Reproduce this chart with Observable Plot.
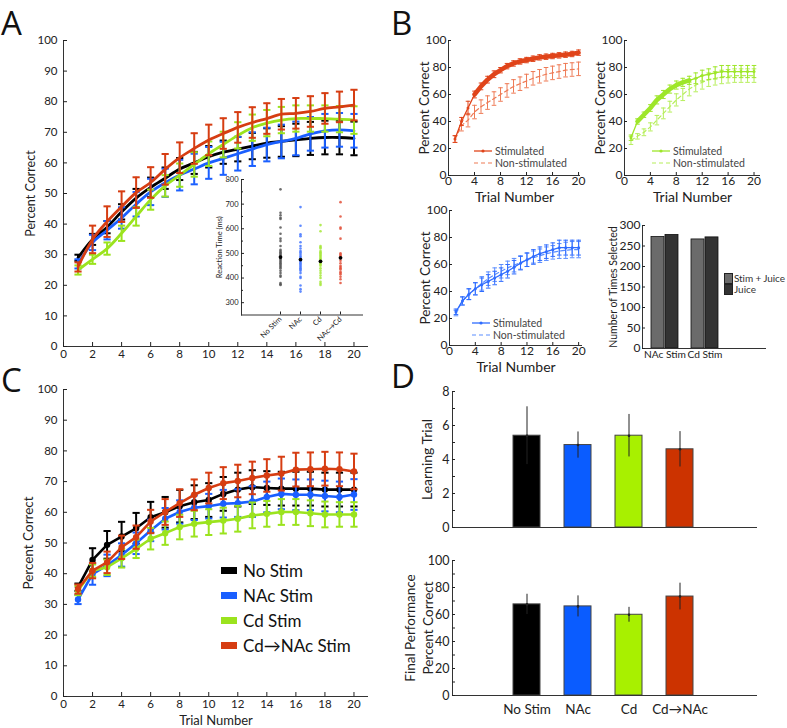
<!DOCTYPE html>
<html><head><meta charset="utf-8">
<script src="https://cdn.jsdelivr.net/npm/d3@7"></script>
<script src="https://cdn.jsdelivr.net/npm/@observablehq/plot@0.6"></script>
<style>
body{margin:0;background:#fff;}
#fig{position:relative;width:787px;height:728px;overflow:hidden;font-family:Lato,"Open Sans",sans-serif;color:#222;}
.letter{position:absolute;font-family:"Open Sans",sans-serif;font-size:33px;line-height:33px;color:#111;}
.lg{position:absolute;white-space:nowrap;display:flex;align-items:center;}
</style></head><body><div id="fig"></div>
<script>
// ---------------- DATA ----------------
const trials = [1,2,3,4,5,6,7,8,9,10,11,12,13,14,15,16,17,18,19,20];
const trialTicks2 = [0,2,4,6,8,10,12,14,16,18,20];
const trialTicks4 = [0,4,8,12,16,20];
const pctTicks10 = [0,10,20,30,40,50,60,70,80,90,100];
const pctTicks20 = [0,20,40,60,80,100];
const seriesNames = ["No Stim","NAc Stim","Cd Stim","Cd\u2192NAc Stim"];
const seriesColors = ["#000000","#1a5fff","#9be31e","#d63d12"];

// Panel A (smoothed curves)
const aNoStim    = [29,35,39,44,48.5,52,55,58,60,62,63.5,64.5,65.5,66.5,67,67.5,68,68.3,68.3,68];
const aNoStimErr = [1,1.8,2,2.5,3,3.2,3.5,3.6,3.6,3.5,3.8,4,4.3,4.8,5,5.3,5.4,5.5,5.5,5.5];
const aNAc       = [27,34,38,42,46.5,50.5,53.5,56,58,60,61.5,63,64.5,66,67,68,69.5,70.5,70.8,70.5];
const aNAcErr    = [1.5,2.5,3,3.5,4,4.3,4.6,5,5,5.2,5.4,5.5,5.5,5.5,5.5,5.5,5.5,5.5,5.5,5.5];
const aCd        = [25,28.5,32,37,42.5,48,52.5,56,59.5,63,66,69,71.5,73,74,74.5,74.5,74.5,74.3,74];
const aCdErr     = [1.5,1.5,2,2.5,3,3.3,3.5,3.8,4,4,4.2,4.3,4.3,4.3,4.3,4.3,4.3,4.3,4.3,4.5];
const aCdNAc     = [26,35,40.8,45.7,50.3,53.6,57.9,61.7,64.7,67.5,69.6,71.6,73.2,74.5,75.9,76.2,76.8,77.8,78.3,78.9];
const aCdNAcErr  = [1.5,4.5,5,5,5,5,5,5,5,5,5,5,5,5,5,5,5,5,5,5];

// Inset: reaction times (ms)
const insetCats = ["No Stim","NAc","Cd","NAc\u2192Cd"];
const insetColors = ["#555555","#4477ff","#a6e83a","#e2503a"];
const rtNoStim = [760,665,655,645,640,605,580,560,550,530,515,510,505,500,495,490,485,480,475,470,465,460,455,450,445,440,430,420,410,405,380,375,372];
const rtNAc    = [688,612,578,570,545,530,520,510,505,498,490,485,480,475,470,465,460,455,450,445,440,435,430,420,405,400,370,355,345];
const rtCd     = [615,590,530,525,520,510,505,500,495,490,485,480,475,470,465,460,455,450,440,430,420,410,400,385,378,372];
const rtNAcCd  = [708,650,605,600,560,500,495,490,485,480,470,460,450,445,440,435,425,420,415,405,395,380];
const rtMeans  = [485,475,468,482];
const rtTicks  = [300,400,500,600,700,800];
const rtMinor  = [350,450,550,650,750];

// Panel B
const bLegend = ["Stimulated","Non-stimulated"];
const b1Stim    = [27,40,50,60,66,71,75,78,81,83,84.5,85.5,86.5,87.5,88,88.5,89,89.5,90,91];
const b1StimErr = [2.5,3,5,2.5,2.5,2.5,2.5,2,2,2,2,2,2,2,2,2,2,2,2,2];
const b1Non     = [27,37,41,47,51,54,57,60,63,66,68,70,72,73.5,75,76,77,78,78.5,79];
const b1NonErr  = [2.5,4,5,5,5,5,5,5,5,5,5,5,5,5,5,5,5,5,5,5];
const b1Dense   = [4,5,6,7,8,9,10,11,12,13,14,15,16,17,18,19,20];
const b2Stim    = [28,40,45,50,56,60,64,67,69,70.5,72,74,75,76,77,77,77,77,77,77];
const b2StimErr = [2,2,2,2.5,3,3,3,3,3,3,4,4,4,4.5,4.5,4.5,4.5,4.5,4.5,4.5];
const b2Non     = [26,29,32,36,41,46,51,56,60,64,67,69,71,72,73,73.5,74,74,74,74];
const b2NonErr  = [3,2,2.5,3,3.5,4,4,4.5,4.5,5,5,5,5,5,5,5,5,5,5,5];
const b2Dense   = [2,3,4,5,6,7,8,9,10];
const b3Stim    = [25,33,38,42,45,47.5,50,52.5,55,58,61,63.5,66,68,69.5,71,72.5,72.5,72.5,72.5];
const b3StimErr = [2,3,4,4.5,5,5,5,5,5,5,5,5,5,5,5,5,5.5,5.5,5.5,5.5];
const b3Non     = [24,33,38,42,46,49.5,52.5,55,57.5,59.5,61.5,63.5,65,66.5,68,69,70,70.5,71,71];
const b3NonErr  = [2,3,4,4.5,5,5,5,5,5,5,5,5,5,5,5,5,5.5,6,6,6];
const b4Cats = ["NAc Stim","Cd Stim"];
const b4Keys = ["Stim + Juice","Juice"];
const b4StimJuice = [272,266];
const b4Juice     = [277,271];
const b4Ticks = [0,50,100,150,200,250,300];

// Panel C
const cNoStim    = [35.6,44.5,49.4,52.1,54.8,58.4,60,62,63.3,64,66,67.4,68.2,67.9,67.7,67.7,67.7,67.4,67.4,67.4];
const cNoStimErr = [1.2,3.8,4.5,4.8,5,5,5,5.3,5.5,5.5,5.5,5.5,5.5,5.5,5.5,5.5,5.5,5.5,5.5,5.5];
const cNAc       = [31.6,39.9,42.7,46.1,49.9,54.1,57.9,60.1,61.5,62,62.8,63,63.5,65,66,65.7,65.7,65.3,65,65.8];
const cNAcErr    = [1.5,3.5,3.5,3.8,3.5,3.5,3.5,3.8,4,4,4.5,4.5,5,5,5,5,5,5,5,5];
const cCd        = [34.5,41,42.1,45,48.1,51.4,53.2,55.2,56.3,56.8,57.3,57.9,59,59.5,60.1,60.1,59.7,59.3,59.3,59.3];
const cCdErr     = [1.5,2,2.5,3,3,3.5,3.8,4,4.2,4.2,4.2,4.2,4.2,4.2,4.2,4.2,4.2,4.2,4,4];
const cCdNAc     = [35,41,43.7,48.6,51.9,57,60.1,63,65.7,67.9,69.5,70.2,71.2,72,72.6,73.9,74,74.2,74,73.3];
const cCdNAcErr  = [1.5,2.5,3.5,3.8,3.8,3.8,4.2,4.5,5,5,5.2,5.3,5.3,5.3,5.5,5.5,5.5,5.5,5.5,5.8];

// Panel D
const dCats = ["No Stim","NAc","Cd","Cd\u2192NAc"];
const dColors = ["#000000","#0a5cff","#a8f000","#cc3300"];
const dLearn    = [5.4,4.85,5.4,4.6];
const dLearnErr = [1.7,0.77,1.25,1.04];
const dLearnTicks = [0,2,4,6,8];
const dLearnMinor = [1,3,5,7];
const dFinal    = [67.5,66,59.8,73.3];
const dFinalErr = [7.5,7.8,5.5,9.9];
const dFinalMinor = [10,30,50,70,90];

// ---------------- HELPERS ----------------
const fig = document.getElementById("fig");
const AX = "#333";
const FONT = "Lato, 'Open Sans', sans-serif";
const st = (fs) => ({background:"transparent", fontFamily:FONT, fontSize:fs+"px", color:"#222", overflow:"visible"});
function mount(svg, left, top){ svg.style.position="absolute"; svg.style.left=left+"px"; svg.style.top=top+"px"; svg.style.maxWidth="none"; fig.appendChild(svg); }
function addHTML(html){ const t=document.createElement("div"); t.innerHTML=html; while(t.firstChild) fig.appendChild(t.firstChild); }
const capSym = {draw(ctx, size){ const w=Math.sqrt(size/Math.PI); ctx.moveTo(-w,0); ctx.lineTo(w,0); }};
const rowsOf = (m, e) => trials.map((t,i)=>({trial:t, v:m[i], lo:m[i]-e[i], hi:m[i]+e[i]}));
function errMarks(rows, color, w, cap){
  return [
    Plot.ruleX(rows, {x:"trial", y1:"lo", y2:"hi", stroke:color, strokeWidth:w}),
    Plot.dot(rows, {x:"trial", y:"lo", symbol:capSym, r:cap, stroke:color, strokeWidth:w, fill:"none"}),
    Plot.dot(rows, {x:"trial", y:"hi", symbol:capSym, r:cap, stroke:color, strokeWidth:w, fill:"none"})
  ];
}
const ylab = (t, dx, fs) => Plot.text([t], {text:d=>d, frameAnchor:"left", textAnchor:"middle", lineAnchor:"middle", dx, rotate:-90, fontSize:fs, fill:"#222"});
const xlab = (t, dy, fs) => Plot.text([t], {text:d=>d, frameAnchor:"bottom", textAnchor:"middle", lineAnchor:"middle", dy, fontSize:fs, fill:"#222"});

// ---------------- PANEL A ----------------
const aSeries = [[aNoStim,aNoStimErr],[aNAc,aNAcErr],[aCd,aCdErr],[aCdNAc,aCdNAcErr]];
const aMarks = [];
aSeries.forEach(([m,e],i)=>{
  const r = rowsOf(m,e);
  aMarks.push(...errMarks(r, seriesColors[i], 2, 3.6));
  aMarks.push(Plot.line(r, {x:"trial", y:"v", stroke:seriesColors[i], strokeWidth:2.8, curve:"catmull-rom"}));
});
mount(Plot.plot({
  width:372, height:370, marginLeft:63, marginRight:4, marginTop:40, marginBottom:24,
  x:{domain:[0,21]}, y:{domain:[0,100]}, style:st(11.5),
  marks:[
    Plot.ruleY([0],{stroke:AX}), Plot.ruleX([0],{stroke:AX}),
    Plot.axisY({ticks:pctTicks10, tickSize:-4, tickPadding:10, label:null}),
    Plot.axisX({ticks:trialTicks2, tickSize:-4, tickPadding:7, label:null}),
    ...aMarks,
    ylab("Percent Correct", -33, 12.5)
  ]
}), 0, 0);

// Inset
const insetRows = [];
[rtNoStim, rtNAc, rtCd, rtNAcCd].forEach((arr,i)=>arr.forEach(v=>insetRows.push({cat:insetCats[i], rt:v, c:insetColors[i]})));
const insetMeanRows = insetCats.map((c,i)=>({cat:c, rt:rtMeans[i]}));
mount(Plot.plot({
  width:160, height:186, marginLeft:30, marginRight:8, marginTop:9, marginBottom:41.5,
  x:{type:"point", domain:insetCats, range:[57,140]}, y:{domain:[250,800]}, style:st(7.5),
  marks:[
    Plot.ruleY([250],{stroke:AX}), Plot.frame({anchor:"left", stroke:AX}),
    Plot.axisY({ticks:rtTicks, tickSize:-3, tickPadding:6, label:null}),
    Plot.axisY({ticks:rtMinor, tickSize:-2, tickFormat:()=>"", label:null}),
    Plot.axisX({tickSize:-3, tickRotate:-45, tickPadding:6, label:null}),
    Plot.dot(insetRows, {x:"cat", y:"rt", fill:"c", r:1.3, fillOpacity:0.85}),
    Plot.dot(insetMeanRows, {x:"cat", y:"rt", fill:"#000", r:1.9}),
    ylab("Reaction Time (ms)", -22, 7.5)
  ]
}), 211, 170);

// ---------------- PANEL B ----------------
function bPanel({stim, stimErr, non, nonErr, dense, color, light, domainMax, w, ml, left, top}){
  const sR = rowsOf(stim, stimErr), nR = rowsOf(non, nonErr);
  const dR = sR.filter(d=>dense.includes(d.trial));
  mount(Plot.plot({
    width:w, height:185, marginLeft:ml, marginRight:5, marginTop:15, marginBottom:35,
    x:{domain:[0,domainMax]}, y:{domain:[0,100]}, style:st(12),
    marks:[
      Plot.ruleY([0],{stroke:AX}), Plot.ruleX([0],{stroke:AX}),
      Plot.axisY({ticks:pctTicks20, tickSize:-3, tickPadding:5, label:null}),
      Plot.axisX({ticks:trialTicks4, tickSize:-3, tickPadding:4, label:null}),
      ...errMarks(nR, light, 1, 2.3),
      Plot.line(nR, {x:"trial", y:"v", stroke:light, strokeWidth:1.2, strokeDasharray:"4,3"}),
      ...errMarks(sR, color, 1, 2.3),
      Plot.line(sR, {x:"trial", y:"v", stroke:color, strokeWidth:1.3}),
      Plot.line(dR, {x:"trial", y:"v", stroke:color, strokeWidth:4.5}),
      Plot.dot(sR, {x:"trial", y:"v", fill:color, r:1.5}),
      ylab("Percent Correct", -24, 13.5),
      xlab("Trial Number", 22.5, 14)
    ]
  }), left, top);
}
function bLegendHTML(left, top, color, light){
  return `<div class="lg" style="left:${left}px;top:${top}px;height:12px;line-height:12px;font-size:10.5px;color:#444">
    <svg width="18" height="8" style="margin-right:3px"><line x1="0" y1="4" x2="18" y2="4" stroke="${color}" stroke-width="1.3"/><circle cx="9" cy="4" r="1.6" fill="${color}"/></svg>${bLegend[0]}</div>
    <div class="lg" style="left:${left}px;top:${top+12.5}px;height:12px;line-height:12px;font-size:10.5px;color:#444">
    <svg width="18" height="8" style="margin-right:3px"><line x1="0" y1="4" x2="18" y2="4" stroke="${light}" stroke-width="1.2" stroke-dasharray="4,3"/></svg>${bLegend[1]}</div>`;
}
bPanel({stim:b1Stim, stimErr:b1StimErr, non:b1Non, nonErr:b1NonErr, dense:b1Dense, color:"#e0441a", light:"#ee7a55", domainMax:20.3, w:195, ml:58, left:390, top:25});
bPanel({stim:b2Stim, stimErr:b2StimErr, non:b2Non, nonErr:b2NonErr, dense:b2Dense, color:"#9ee62a", light:"#b6ee5a", domainMax:21, w:180, ml:39, left:585, top:25});
bPanel({stim:b3Stim, stimErr:b3StimErr, non:b3Non, nonErr:b3NonErr, dense:[], color:"#2f6cff", light:"#5a8dff", domainMax:20.6, w:197, ml:59, left:390, top:195});
addHTML(bLegendHTML(474, 144.5, "#e0441a", "#ee7a55"));
addHTML(bLegendHTML(652, 144.5, "#9ee62a", "#b6ee5a"));
addHTML(bLegendHTML(472, 316.5, "#2f6cff", "#5a8dff"));

// B4 bar chart
const b4SJ = b4Cats.map((c,i)=>({cat:c, v:b4StimJuice[i]}));
const b4J  = b4Cats.map((c,i)=>({cat:c, v:b4Juice[i]}));
mount(Plot.plot({
  width:180, height:160, marginLeft:52, marginRight:4, marginTop:10, marginBottom:27,
  x:{type:"band", domain:b4Cats, range:[60,129], paddingInner:0.317, paddingOuter:0}, y:{domain:[0,300]}, style:st(12),
  marks:[
    Plot.barY(b4SJ, {x:"cat", y:"v", fill:"#6b6b6b", stroke:"#111", strokeWidth:0.8, insetRight:14}),
    Plot.barY(b4J,  {x:"cat", y:"v", fill:"#333333", stroke:"#111", strokeWidth:0.8, insetLeft:14}),
    Plot.ruleY([0],{stroke:AX}), Plot.frame({anchor:"left", stroke:AX}),
    Plot.axisY({ticks:b4Ticks, tickSize:-3, tickPadding:5, label:null}),
    Plot.axisX({tickSize:0, tickPadding:2, fontSize:10.2, label:null}),
    ylab("Number of Times Selected", -29, 10.5)
  ]
}), 590, 215);
addHTML(`<div class="lg" style="left:724px;top:273px;height:11px;line-height:11px;font-size:10px;letter-spacing:-0.1px;color:#333"><span style="display:inline-block;width:7px;height:9px;background:#6b6b6b;border:0.5px solid #222;margin-right:1px"></span>${b4Keys[0]}</div>
<div class="lg" style="left:724px;top:284px;height:11px;line-height:11px;font-size:10px;color:#333"><span style="display:inline-block;width:7px;height:9px;background:#333;border:0.5px solid #222;margin-right:1px"></span>${b4Keys[1]}</div>`);

// ---------------- PANEL C ----------------
const cSeries = [[cNoStim,cNoStimErr],[cNAc,cNAcErr],[cCd,cCdErr],[cCdNAc,cCdNAcErr]];
const cMarks = [];
cSeries.forEach(([m,e],i)=>{
  const r = rowsOf(m,e);
  cMarks.push(...errMarks(r, seriesColors[i], 2, 3.6));
  cMarks.push(Plot.line(r, {x:"trial", y:"v", stroke:seriesColors[i], strokeWidth:2.6}));
  cMarks.push(Plot.dot(r, {x:"trial", y:"v", fill:seriesColors[i], r:3.2}));
});
mount(Plot.plot({
  width:372, height:363, marginLeft:63, marginRight:4, marginTop:24, marginBottom:32,
  x:{domain:[0,21]}, y:{domain:[0,100]}, style:st(11.5),
  marks:[
    Plot.ruleY([0],{stroke:AX}), Plot.ruleX([0],{stroke:AX}),
    Plot.axisY({ticks:pctTicks10, tickSize:-4, tickPadding:10, label:null}),
    Plot.axisX({ticks:trialTicks2, tickSize:-4, tickPadding:7, label:null}),
    ...cMarks,
    ylab("Percent Correct", -35, 13.5),
    xlab("Trial Number", 24, 13)
  ]
}), 0, 365);
addHTML(seriesNames.map((n,i)=>`<div class="lg" style="left:221px;top:${560+i*25}px;height:20px;font-size:17px;color:#111"><span style="display:inline-block;width:16px;height:7px;background:${seriesColors[i]};margin-right:6px"></span>${n}</div>`).join(""));

// ---------------- PANEL D ----------------
const dL = dCats.map((c,i)=>({cat:c, v:dLearn[i], lo:dLearn[i]-dLearnErr[i], hi:dLearn[i]+dLearnErr[i], c:dColors[i]}));
const dF = dCats.map((c,i)=>({cat:c, v:dFinal[i], lo:dFinal[i]-dFinalErr[i], hi:dFinal[i]+dFinalErr[i], c:dColors[i]}));
const dX = {type:"band", domain:dCats, range:[122,303], paddingInner:0.474, paddingOuter:0};
function dBarMarks(rows){
  return [
    Plot.barY(rows, {x:"cat", y:"v", fill:"c", stroke:"#444", strokeWidth:1}),
    Plot.ruleX(rows, {x:"cat", y1:"lo", y2:"hi", stroke:"#222", strokeWidth:1}),
    Plot.dot(rows, {x:"cat", y:"v", fill:"#222", r:1.3})
  ];
}
mount(Plot.plot({
  width:372, height:155, marginLeft:62, marginRight:5, marginTop:11, marginBottom:8,
  x:{...dX, axis:null}, y:{domain:[0,8]}, style:st(12.5),
  marks:[
    ...dBarMarks(dL),
    Plot.ruleY([0],{stroke:AX}), Plot.frame({anchor:"left", stroke:AX}),
    Plot.axisY({ticks:dLearnTicks, tickSize:-3, tickPadding:6, label:null}),
    Plot.axisY({ticks:dLearnMinor, tickSize:-3, tickFormat:()=>"", label:null}),
    ylab("Learning Trial", -25, 14)
  ]
}), 390, 380);
mount(Plot.plot({
  width:372, height:178, marginLeft:62, marginRight:5, marginTop:10, marginBottom:33,
  x:dX, y:{domain:[0,100]}, style:st(12.5),
  marks:[
    ...dBarMarks(dF),
    Plot.ruleY([0],{stroke:AX}), Plot.frame({anchor:"left", stroke:AX}),
    Plot.axisY({ticks:pctTicks20, tickSize:-3, tickPadding:6, label:null}),
    Plot.axisY({ticks:dFinalMinor, tickSize:-3, tickFormat:()=>"", label:null}),
    Plot.axisX({tickSize:0, tickPadding:9, fontSize:13.5, label:null}),
    ylab("Final Performance", -42, 13.5),
    ylab("Percent Correct", -24, 13.5)
  ]
}), 390, 550);

// ---------------- LETTERS ----------------
addHTML(`<div class="letter" style="left:1px;top:6px">A</div><div class="letter" style="left:391px;top:6px">B</div><div class="letter" style="left:1px;top:363px">C</div><div class="letter" style="left:391px;top:359px">D</div>`);
</script></body></html>
